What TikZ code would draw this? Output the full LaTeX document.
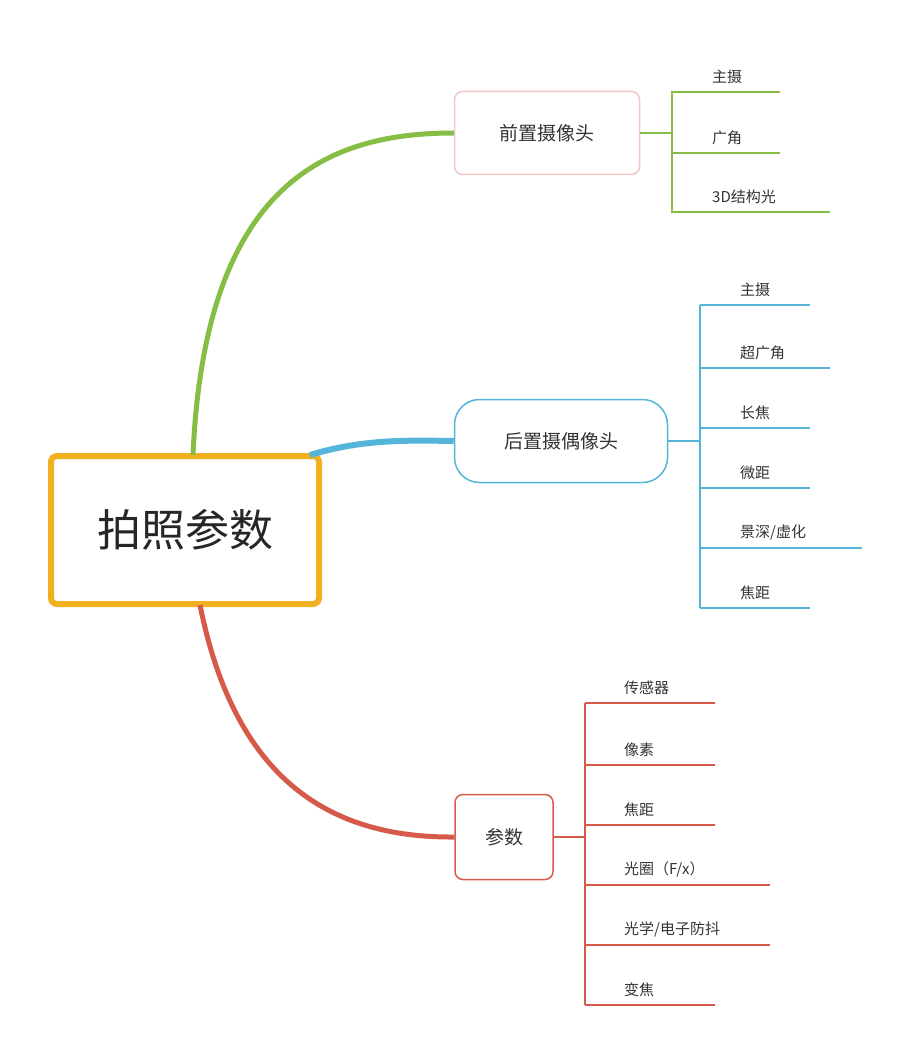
\documentclass[tikz,border=0pt]{standalone}
\usepackage{fontspec}
\setmainfont{Noto Sans CJK SC}
\begin{document}
\begin{tikzpicture}[x=1pt,y=-1pt]
\definecolor{gr}{HTML}{86BD45}\definecolor{bl}{HTML}{55B4DA}\definecolor{rd}{HTML}{D65A4A}\definecolor{og}{HTML}{F0B020}\definecolor{pk}{HTML}{F0C8C8}
\tikzset{lbl/.style={anchor=south west,inner sep=2pt,font=\fontsize{15}{15}\selectfont,text=black!80},
box/.style={draw,rounded corners=8pt,line width=1.5pt,font=\fontsize{19}{19}\selectfont,text=black!80}}
\useasboundingbox (0,0) rectangle (913,1064);
\node[draw=og,line width=6pt,rounded corners=6pt,minimum width=268pt,minimum height=148pt,font=\fontsize{44}{44}\selectfont,text=black!85] (root) at (185,530) {拍照参数};
\node[box,draw=pk,minimum width=185pt,minimum height=83pt] (f) at (547,133) {前置摄像头};
\node[box,draw=bl,rounded corners=25pt,minimum width=213pt,minimum height=83pt] (b) at (561,441) {后置摄偶像头};
\node[box,draw=rd,minimum width=98pt,minimum height=85pt] (p) at (504,837) {参数};
\draw[gr,line width=5pt] (193,455) .. controls (205,180) and (330,133) .. (f.west);
\draw[bl,line width=6pt] (310,455) .. controls (360,440) and (400,440) .. (b.west);
\draw[rd,line width=5pt] (200,605) .. controls (235,780) and (330,838) .. (p.west);
\coordinate (fj) at (672,133);
\draw[gr,line width=2pt] (f.east) -- (fj);
\draw[gr,line width=2pt] (700,92) -- (672,92) -- (672,212) -- (700,212);
\foreach \y/\e/\t in {92/780/{主摄},153/780/{广角},212/830/{3D结构光}}{
\draw[gr,line width=2pt] (672,\y) -- (\e,\y);
\node[lbl] at (710,\y-6) {\t};}
\coordinate (bj) at (700,441);
\draw[bl,line width=2pt] (b.east) -- (bj);
\draw[bl,line width=2pt] (700,305) -- (700,608);
\foreach \y/\e/\t in {305/810/{主摄},368/830/{超广角},428/810/{长焦},488/810/{微距},548/862/{景深/虚化},608/810/{焦距}}{
\draw[bl,line width=2pt] (700,\y) -- (\e,\y);
\node[lbl] at (738,\y-6) {\t};}
\coordinate (pj) at (585,837);
\draw[rd,line width=2pt] (p.east) -- (pj);
\draw[rd,line width=2pt] (585,703) -- (585,1005);
\foreach \y/\e/\t in {703/715/{传感器},765/715/{像素},825/715/{焦距},885/770/{光圈（F/x）},945/770/{光学/电子防抖},1005/715/{变焦}}{
\draw[rd,line width=2pt] (585,\y) -- (\e,\y);
\node[lbl] at (622,\y-6) {\t};}
\end{tikzpicture}
\end{document}
